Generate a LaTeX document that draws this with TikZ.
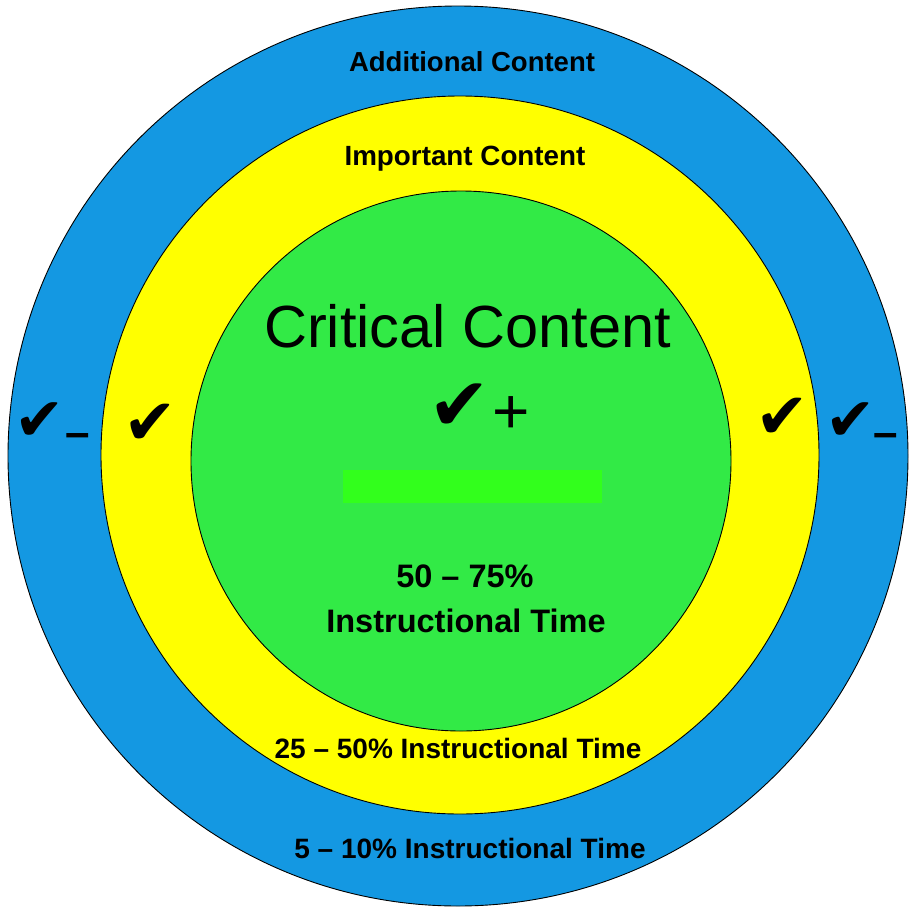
\documentclass[tikz,border=0pt]{standalone}
\usepackage{fontspec}
\setmainfont{Liberation Sans}
\newfontfamily\dejavu{DejaVu Sans}
\definecolor{ringblue}{RGB}{20,152,226}
\definecolor{ringyellow}{RGB}{255,255,0}
\definecolor{ringgreen}{RGB}{50,234,70}
\definecolor{bargreen}{RGB}{50,255,28}
\tikzset{
  ring/.style={circle, draw=black, line width=0.9pt, inner sep=0pt},
  lbl/.style={font=\bfseries\fontsize{28}{30}\selectfont, anchor=base, inner sep=0pt},
  chk/.style={font=\dejavu\fontsize{#1}{#1}\selectfont, inner sep=0pt},
  dsh/.style={font=\bfseries\fontsize{44}{44}\selectfont, inner sep=0pt}
}
\begin{document}
\begin{tikzpicture}[x=1pt,y=-1pt]
\useasboundingbox (0,0) rectangle (910,908);
\node[ring, fill=ringblue, minimum size=900pt] (outer) at (458,456) {};
\node[ring, fill=ringyellow, minimum size=718pt] (middle) at (460,455) {};
\node[ring, fill=ringgreen, minimum size=540pt] (inner) at (461,461) {};
\node[fill=bargreen, minimum width=259pt, minimum height=33pt, inner sep=0pt] (bar) at (472.5,486.5) {};

\node[lbl, font=\bfseries\fontsize{27.5}{30}\selectfont] (add) at (472,71) {Additional Content};
\node[lbl, font=\bfseries\fontsize{27.8}{30}\selectfont] (imp) at (465,165) {Important Content};
\node[lbl, font=\fontsize{59.5}{62}\selectfont] (crit) at (467.5,347) {Critical Content};
\node[lbl, font=\bfseries\fontsize{32.5}{34}\selectfont] (p1) at (465,587) {50 -- 75\%};
\node[lbl, font=\bfseries\fontsize{32.5}{34}\selectfont] (p1b) at (466,632) {Instructional Time};
\node[lbl] (p2) at (458,758) {25 -- 50\% Instructional Time};
\node[lbl] (p3) at (470,858) {5 -- 10\% Instructional Time};

\node[chk=74] (cc) at (459,407.5) {✔};
\node[font=\fontsize{64}{64}\selectfont, inner sep=0pt] (plus) at (511,415) {+};

\node[chk=64] (cyl) at (150,424) {✔};
\node[chk=64] (cyr) at (782.5,418) {✔};
\node[chk=60] (cbl) at (40,422) {✔};
\node[chk=60] (cbr) at (850.5,422) {✔};
\node[dsh] (dl) at (78,440) {--};
\node[dsh] (dr) at (886,440) {--};
\end{tikzpicture}
\end{document}
